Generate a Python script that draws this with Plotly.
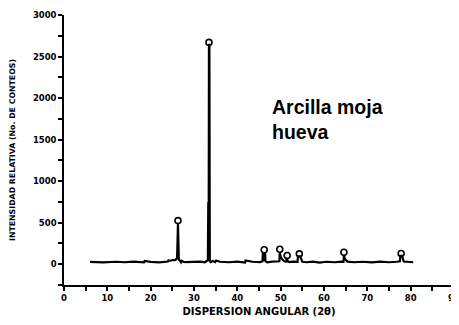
import plotly.graph_objects as go

# Diffractogram trace (2θ, counts)
two_theta = [6.0, 9.0, 12.0, 14.0, 16.0, 18.5, 18.6, 20.0, 22.0, 24.0, 24.1, 24.6, 25.0,
             25.6, 25.9, 26.1, 26.3, 26.4, 26.5, 26.7, 27.0, 27.2, 27.5, 28.0, 30.0, 31.5,
             32.5, 32.9, 33.2, 33.3, 33.4, 33.45, 33.55, 33.65, 33.9, 34.3, 34.9, 35.1,
             36.0, 38.0, 40.0, 41.8, 41.9, 43.5, 45.3, 45.8, 45.9, 46.0, 46.4, 46.5,
             46.9, 48.0, 49.2, 49.7, 49.8, 50.0, 50.4, 50.8, 51.3, 51.4, 51.6, 52.0,
             52.8, 53.9, 54.0, 54.5, 55.0, 56.0, 57.5, 59.0, 60.5, 62.5, 64.0, 64.5,
             64.6, 64.8, 65.4, 67.0, 69.0, 71.0, 73.0, 75.0, 76.8, 77.5, 77.6, 78.0,
             78.4, 79.5, 80.6]
counts = [28, 22, 30, 24, 32, 24, 40, 28, 22, 32, 45, 42, 50,
          48, 60, 80, 490, 80, 55, 45, 22, 40, 30, 26, 30, 32,
          24, 40, 50, 750, 740, 2640, 2640, 35, 26, 40, 26, 45,
          30, 24, 32, 20, 45, 30, 26, 36, 135, 38, 135, 38,
          24, 32, 30, 36, 140, 90, 55, 36, 30, 75, 38, 26,
          32, 30, 95, 95, 30, 24, 32, 20, 30, 24, 32, 30,
          110, 65, 32, 24, 30, 22, 32, 24, 30, 36, 100, 100,
          32, 26, 24]

# Identified peaks (circle markers)
peak_x = [26.3, 33.45, 46.2, 49.8, 51.5, 54.3, 64.6, 77.8]
peak_y = [525, 2670, 175, 180, 105, 125, 145, 130]

x_ticks = [0, 10, 20, 30, 40, 50, 60, 70, 80, 90]
y_ticks = [0, 500, 1000, 1500, 2000, 2500, 3000]

FONT = "DejaVu Sans, Liberation Sans, Arial, sans-serif"

fig = go.Figure()
fig.add_trace(go.Scatter(x=two_theta, y=counts, mode="lines",
                         line=dict(color="black", width=2.2), showlegend=False))
fig.add_trace(go.Scatter(x=peak_x, y=peak_y, mode="markers",
                         marker=dict(symbol="circle-open", size=6, color="black",
                                     line=dict(width=1.6, color="black")),
                         showlegend=False))

fig.add_annotation(text="<b>Arcilla moja<br>hueva</b>", xref="paper", yref="paper",
                   x=0.528, y=0.612, xanchor="left", yanchor="middle", align="left",
                   showarrow=False,
                   font=dict(family="Liberation Sans, Arial, sans-serif", size=19.5, color="black"))

tick_font = dict(family=FONT, size=8.5, color="black", weight="bold")

fig.update_xaxes(range=[0, 90], tickvals=x_ticks, ticktext=[str(v) for v in x_ticks],
                 ticks="outside", ticklen=4, tickwidth=1.5, tickcolor="black",
                 minor=dict(dtick=5, tick0=0, ticks="outside", ticklen=4, tickwidth=1.5, tickcolor="black"),
                 showline=True, linecolor="black", linewidth=1.5, showgrid=False, zeroline=False,
                 tickfont=tick_font, automargin=False, ticklabeloverflow="allow",
                 title=dict(text="DISPERSION ANGULAR (2θ)", standoff=6,
                            font=dict(family=FONT, size=10, color="black", weight="bold")))
fig.update_yaxes(range=[-250, 3000], tickvals=y_ticks, ticktext=[str(v) for v in y_ticks],
                 ticks="outside", ticklen=4, tickwidth=1.5, tickcolor="black",
                 minor=dict(dtick=250, tick0=0, ticks="outside", ticklen=4, tickwidth=1.5, tickcolor="black"),
                 showline=True, linecolor="black", linewidth=1.5, showgrid=False, zeroline=False,
                 tickfont=tick_font, automargin=False,
                 title=dict(text="INTENSIDAD RELATIVA (No. DE CONTEOS)", standoff=16,
                            font=dict(family=FONT, size=7.8, color="black", weight="bold")))

# The page body adds an 8 px offset, so the figure is sized to fill the rest of the window
fig.update_layout(width=451, height=317, margin=dict(l=56, r=5, t=7, b=40),
                  paper_bgcolor="white", plot_bgcolor="white")

fig.write_html("out.html")
